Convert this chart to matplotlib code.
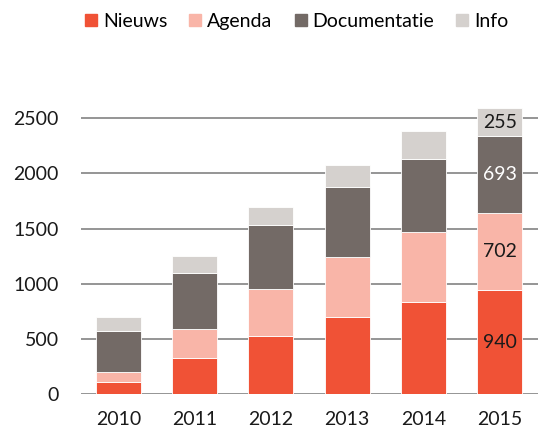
import matplotlib
matplotlib.use("Agg")
import matplotlib.pyplot as plt
from matplotlib.lines import Line2D
import numpy as np

plt.rcParams['font.family'] = ['Lato', 'DejaVu Sans']

years = ["2010", "2011", "2012", "2013", "2014", "2015"]
series_names = ["Nieuws", "Agenda", "Documentatie", "Info"]
nieuws = [110, 330, 530, 700, 830, 940]
agenda = [85, 255, 425, 545, 635, 702]
documentatie = [380, 515, 580, 635, 670, 693]
info = [125, 155, 160, 197, 250, 255]
colors = ["#F05236", "#F9B5A8", "#736A66", "#D5D1CE"]
label_year = "2015"

W, H = 538, 429
fig = plt.figure(figsize=(W / 100, H / 100), dpi=100)
px_per_unit = 0.1103
ymax = 2650
bottom_px = 394
top_px = bottom_px - ymax * px_per_unit
ax = fig.add_axes([81 / W, 1 - bottom_px / H, (W - 81) / W, (bottom_px - top_px) / H])

x = np.arange(len(years))
data = [nieuws, agenda, documentatie, info]
base = np.zeros(len(years))
for vals, c, name in zip(data, colors, series_names):
    ax.bar(x, vals, bottom=base, width=0.59, color=c, edgecolor="white",
           linewidth=0.6, zorder=3, label=name)
    base = base + np.array(vals)

# value labels on last bar
idx = years.index(label_year)
b = 0
for vals, c in zip(data, colors):
    v = vals[idx]
    tc = "white" if c == "#736A66" else "#1a1a1a"
    ax.text(x[idx], b + v / 2, str(v), ha="center", va="center", fontsize=14,
            color=tc, zorder=4)
    b += v

ax.set_xlim(-0.49, 5.5)
ax.set_ylim(0, ymax)
ax.set_yticks([0, 500, 1000, 1500, 2000, 2500])
ax.set_xticks(x)
ax.set_xticklabels(years)
ax.yaxis.grid(True, color="#959595", linewidth=1.4, zorder=0)
ax.set_axisbelow(True)
for s in ax.spines.values():
    s.set_visible(False)
ax.tick_params(axis="both", length=0, labelsize=14, colors="#1a1a1a")
ax.tick_params(axis="y", pad=16)
ax.tick_params(axis="x", pad=12)

handles = [Line2D([], [], marker="s", linestyle="", color=c, markersize=8.6)
           for c in colors]
fig.legend(handles, series_names, loc="center", bbox_to_anchor=(0.548, 0.951),
           ncol=4, frameon=False, fontsize=14, handletextpad=0.1,
           columnspacing=0.95, handlelength=1.0, borderaxespad=0)

fig.savefig("out.png", dpi=100)
